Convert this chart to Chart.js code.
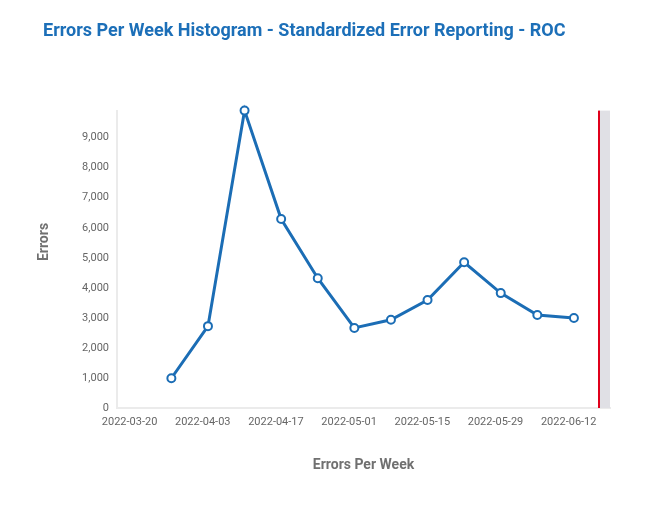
<!DOCTYPE html>
<html>
<head>
<meta charset="utf-8">
<script src="https://cdn.jsdelivr.net/npm/chart.js@4/dist/chart.umd.min.js"></script>
<style>
  html, body { margin: 0; padding: 0; background: #ffffff; }
  #wrap { position: relative; width: 650px; height: 509px; }
</style>
</head>
<body>
<div id="wrap"><canvas id="c"></canvas></div>
<script>
// ---- data ----
const weekStarts = ['2022-03-28','2022-04-04','2022-04-11','2022-04-18','2022-04-25','2022-05-02',
                    '2022-05-09','2022-05-16','2022-05-23','2022-05-30','2022-06-06','2022-06-13'];
const errorCounts = [990, 2725, 9900, 6290, 4320, 2665, 2935, 3595, 4850, 3825, 3095, 2995];
const xTickDates = ['2022-03-20','2022-04-03','2022-04-17','2022-05-01','2022-05-15','2022-05-29','2022-06-12'];
const yTickValues = [0, 1000, 2000, 3000, 4000, 5000, 6000, 7000, 8000, 9000];
const xRange = ['2022-03-17T14:24:00Z', '2022-06-19T21:36:00Z'];
const markerDate = '2022-06-17T18:00:00Z';
const chartTitle = 'Errors Per Week Histogram - Standardized Error Reporting - ROC';
const xTitle = 'Errors Per Week';
const yTitle = 'Errors';

// ---- helpers ----
const DAY = 86400000;
const BASE = Date.parse('2022-03-20');
const toDay = s => (Date.parse(s) - BASE) / DAY;
const fmtDay = d => new Date(BASE + Math.round(d) * DAY).toISOString().slice(0, 10);

const BLUE = '#1b6db5';
const GRAY = '#666666';

const points = weekStarts.map((w, i) => ({ x: toDay(w), y: errorCounts[i] }));

const markerPlugin = {
  id: 'marker',
  beforeDatasetsDraw(chart) {
    const { ctx, chartArea } = chart;
    const xs = chart.scales.x;
    const xm = Math.round(xs.getPixelForValue(toDay(markerDate)));
    ctx.save();
    ctx.fillStyle = '#e0e0e5';
    ctx.fillRect(xm, chartArea.top, chartArea.right - xm, chartArea.bottom - chartArea.top);
    ctx.fillStyle = '#e0001b';
    ctx.fillRect(xm - 1, chartArea.top, 2, chartArea.bottom - chartArea.top);
    ctx.restore();
  }
};

const yTitlePlugin = {
  id: 'yTitle',
  afterDraw(chart) {
    const { ctx } = chart;
    ctx.save();
    ctx.translate(44, 242);
    ctx.rotate(-Math.PI / 2);
    ctx.font = 'bold 14px Roboto';
    ctx.fillStyle = '#707070';
    ctx.textAlign = 'center';
    ctx.textBaseline = 'middle';
    ctx.fillText(yTitle, 0, 0);
    ctx.restore();
  }
};

new Chart(document.getElementById('c'), {
  type: 'line',
  data: {
    datasets: [{
      label: 'Errors',
      data: points,
      borderColor: BLUE,
      borderWidth: 3,
      backgroundColor: '#ffffff',
      pointBackgroundColor: '#ffffff',
      pointBorderColor: BLUE,
      pointBorderWidth: 2,
      pointRadius: 4,
      tension: 0,
      clip: false
    }]
  },
  options: {
    responsive: true,
    maintainAspectRatio: false,
    animation: false,
    layout: { padding: { left: 43, right: 40, top: 0, bottom: 32 } },
    plugins: {
      legend: { display: false },
      tooltip: { enabled: false },
      title: {
        display: true,
        text: chartTitle,
        align: 'start',
        color: '#1c6fb8',
        font: { family: 'Roboto', size: 18, weight: 'bold' },
        padding: { top: 21, bottom: 68 }
      }
    },
    scales: {
      x: {
        type: 'linear',
        min: toDay(xRange[0]),
        max: toDay(xRange[1]),
        grid: { display: false, drawTicks: false },
        border: { display: true, color: '#ebebeb', width: 2 },
        afterBuildTicks: s => { s.ticks = xTickDates.map(d => ({ value: toDay(d) })); },
        afterFit: s => { s.height = 69; },
        ticks: {
          padding: 8,
          maxRotation: 0,
          autoSkip: false,
          color: GRAY,
          font: { family: 'Roboto', size: 11 },
          callback: v => fmtDay(v)
        },
        title: {
          display: true,
          text: xTitle,
          color: '#707070',
          font: { family: 'Roboto', size: 14, weight: 'bold' },
          padding: { top: 4, bottom: 3 }
        }
      },
      y: {
        min: 0,
        max: 9900,
        grid: { display: false, drawTicks: false },
        border: { display: true, color: '#ebebeb', width: 2 },
        afterBuildTicks: s => { s.ticks = yTickValues.map(v => ({ value: v })); },
        afterFit: s => { s.width = 74; },
        ticks: {
          padding: 8,
          color: GRAY,
          font: { family: 'Roboto', size: 11 },
          callback: v => Number(v).toLocaleString('en-US')
        },
        title: { display: false, text: yTitle }
      }
    }
  },
  plugins: [markerPlugin, yTitlePlugin]
});
</script>
</body>
</html>
